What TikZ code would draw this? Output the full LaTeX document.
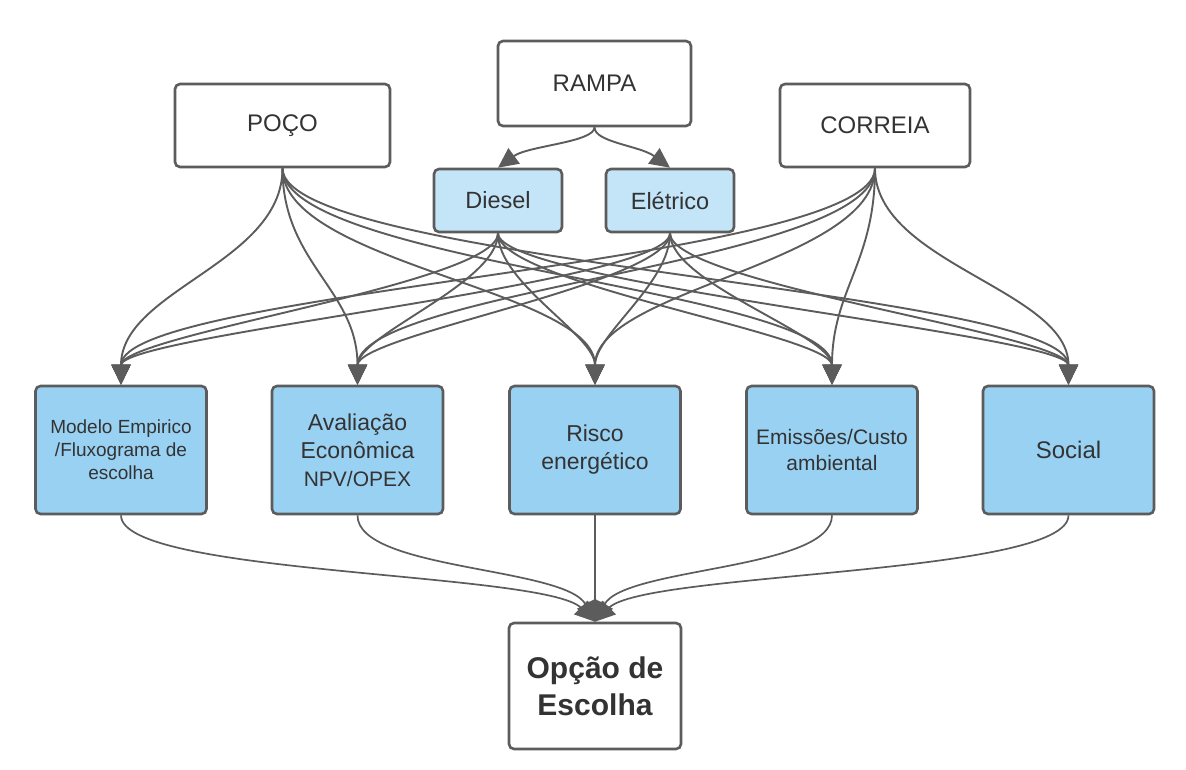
\documentclass[tikz,border=0pt]{standalone}
\usepackage{fontspec}
\setmainfont{Liberation Sans}
\usetikzlibrary{arrows.meta}
\definecolor{edge}{HTML}{5C5C5C}
\definecolor{txt}{HTML}{333333}
\definecolor{blueA}{HTML}{99D1F3}
\definecolor{blueB}{HTML}{C4E4F7}
\begin{document}
\begin{tikzpicture}[x=1pt,y=-1pt,
  box/.style={draw=edge, line width=2.6pt, rounded corners=5pt, fill=white, text=txt, inner sep=0pt, align=center},
  topbox/.style={box, font=\fontsize{24}{28}\selectfont},
  subbox/.style={box, fill=blueB, minimum width=128pt, minimum height=63pt, font=\fontsize{23.5}{28}\selectfont},
  critbox/.style={box, fill=blueA, minimum width=171pt, minimum height=128pt},
  conn/.style={draw=edge, line width=1.9pt, -{Triangle[length=20pt,width=19pt]}},
  link/.style={draw=edge, line width=1.7pt, -{Triangle[length=20pt,width=19pt]}}]
\useasboundingbox (0,0) rectangle (1186,769);

% top row
\node[topbox, minimum width=193pt, minimum height=85pt] (rampa) at (594.5,83.5) {RAMPA};
\node[topbox, minimum width=215pt, minimum height=83pt] (poco) at (282.5,125.5) {POÇO};
\node[topbox, minimum width=190pt, minimum height=83pt] (correia) at (875,125.5) {CORREIA};
\node[subbox] (diesel) at (498,200.5) {Diesel};
\node[subbox] (eletrico) at (670,200.5) {Elétrico};

% criteria row
\node[critbox, font=\fontsize{19}{23}\selectfont] (m) at (121,450) {Modelo Empirico\\/Fluxograma de\\escolha};
\node[critbox, font=\fontsize{23}{28}\selectfont] (a) at (357.5,450) {Avaliação\\Econômica\\\fontsize{21}{28}\selectfont NPV/OPEX};
\node[critbox, font=\fontsize{23}{28}\selectfont] (r) at (595,450) {Risco\\energético};
\node[critbox, font=\fontsize{21}{26}\selectfont] (e) at (832,450) {Emissões/Custo\\ambiental};
\node[critbox, font=\fontsize{24}{28}\selectfont] (s) at (1068.5,450) {Social};

% result
\node[box, minimum width=172pt, minimum height=126pt, font=\bfseries\fontsize{30}{37}\selectfont] (o) at (595,686) {Opção de\\Escolha};

% RAMPA to options
\draw[conn] (rampa.south) .. controls +(0,15) and +(30,-22) .. (diesel.north);
\draw[conn] (rampa.south) .. controls +(0,15) and +(-30,-22) .. (eletrico.north);

% sources to criteria
\foreach \t in {m,a,r,e,s}{
  \draw[conn] (poco.south) .. controls +(0,95) and +(0,-95) .. (\t.north);
  \draw[conn] (correia.south) .. controls +(0,95) and +(0,-95) .. (\t.north);
  \draw[conn] (diesel.south) .. controls +(0,50) and +(0,-50) .. (\t.north);
  \draw[conn] (eletrico.south) .. controls +(0,50) and +(0,-50) .. (\t.north);
}

% criteria to result
\draw[link] (m.south) .. controls +(0,60) and +(-50,-50) .. (o.north);
\draw[link] (a.south) .. controls +(0,55) and +(-30,-55) .. (o.north);
\draw[link] (r.south) -- (o.north);
\draw[link] (e.south) .. controls +(0,55) and +(30,-55) .. (o.north);
\draw[link] (s.south) .. controls +(0,60) and +(50,-50) .. (o.north);
\end{tikzpicture}
\end{document}
